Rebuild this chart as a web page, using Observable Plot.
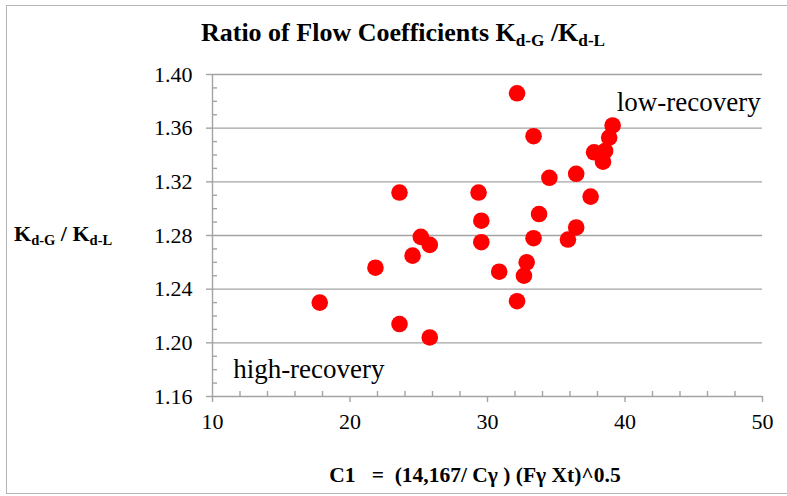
<!DOCTYPE html>
<html>
<head>
<meta charset="utf-8">
<script src="https://cdn.jsdelivr.net/npm/d3@7"></script>
<script src="https://cdn.jsdelivr.net/npm/@observablehq/plot@0.6"></script>
<style>
  body { margin: 0; background: #fff; }
  #c { position: relative; width: 787px; height: 496px; font-family: "Liberation Serif", "Times New Roman", serif; background: #fff; overflow: hidden; }
  .sub { font-size: 0.66em; position: relative; top: 0.3em; }
  #frame { position: absolute; left: 6px; top: 5px; width: 800px; height: 489px; border: 1.5px solid #b4b4b4; box-sizing: border-box; pointer-events: none; }
  #title { position: absolute; left: 0; top: 20px; width: 806px; text-align: center; font-weight: bold; font-size: 26px; line-height: 1; white-space: nowrap; }
  #ylabel { position: absolute; left: 14px; top: 223px; font-weight: bold; font-size: 22px; line-height: 1; white-space: nowrap; }
  #xlabel { position: absolute; left: 0; top: 465px; width: 950px; text-align: center; font-weight: bold; font-size: 21.5px; line-height: 1; white-space: pre; }
  #chart { position: absolute; left: 0; top: 60px; }
</style>
</head>
<body>
<div id="c">
  <div id="title">Ratio of Flow Coefficients K<span class="sub">d-G</span> /K<span class="sub">d-L</span></div>
  <div id="chart"></div>
  <div id="ylabel">K<span class="sub">d-G</span> / K<span class="sub">d-L</span></div>
  <div id="xlabel">C1   =  (14,167/ Cγ ) (Fγ Xt)^0.5</div>
  <div id="frame"></div>
</div>
<script>
// C1 values (x) and Kd-G / Kd-L ratios (y)
const c1 = [17.8, 21.85, 23.6, 23.6, 24.55, 25.15, 25.8, 25.8, 29.35, 29.55, 29.55, 30.85, 32.15, 32.15, 32.65, 32.85, 33.35, 33.35, 33.75, 34.5, 35.85, 36.45, 36.45, 37.5, 37.75, 38.4, 38.55, 38.85, 39.1];
const ratio = [1.230, 1.256, 1.312, 1.214, 1.265, 1.279, 1.273, 1.204, 1.312, 1.291, 1.275, 1.253, 1.386, 1.231, 1.250, 1.260, 1.354, 1.278, 1.296, 1.323, 1.277, 1.286, 1.326, 1.309, 1.342, 1.335, 1.343, 1.353, 1.362];

const xMajor = [10, 20, 30, 40, 50];
const xMinor = [12, 14, 16, 18, 22, 24, 26, 28, 32, 34, 36, 38, 42, 44, 46, 48];
const yMajor = [1.16, 1.20, 1.24, 1.28, 1.32, 1.36, 1.40];
const yMinor = [1.17, 1.18, 1.19, 1.21, 1.22, 1.23, 1.25, 1.26, 1.27, 1.29, 1.30, 1.31, 1.33, 1.34, 1.35, 1.37, 1.38, 1.39];

const noteText = ["low-recovery", "high-recovery"];
const noteX = [39.4, 11.5];
const noteY = [1.3795, 1.1805];

const points = c1.map((x, i) => ({x, y: ratio[i]}));
const notes = noteText.map((t, i) => ({t, x: noteX[i], y: noteY[i]}));

const gray = "#a3a3a3";
const chart = Plot.plot({
  width: 787,
  height: 390,
  marginTop: 14,
  marginBottom: 54,
  marginLeft: 212,
  marginRight: 25,
  style: {fontFamily: "'Liberation Serif', 'Times New Roman', serif", background: "transparent", color: "#000"},
  x: {domain: [10, 50]},
  y: {domain: [1.16, 1.40]},
  marks: [
    Plot.ruleY(yMajor, {stroke: gray, strokeWidth: 1.4}),
    Plot.ruleX([10], {stroke: gray, strokeWidth: 1.4}),
    Plot.axisY({ticks: yMajor, tickSize: 6, tickPadding: 14, tickFormat: d3.format(".2f"), fontSize: 22, stroke: gray, strokeWidth: 1.4, label: null}),
    Plot.axisY({ticks: yMinor, tickSize: -5, text: null, stroke: gray, strokeWidth: 1.4, label: null}),
    Plot.axisX({ticks: xMajor, tickSize: 6, tickPadding: 11, fontSize: 22, stroke: gray, strokeWidth: 1.4, label: null}),
    Plot.axisX({ticks: xMinor, tickSize: -5, text: null, stroke: gray, strokeWidth: 1.4, label: null}),
    Plot.dot(points, {x: "x", y: "y", r: 8.3, fill: "#ff0000", stroke: "none"}),
    Plot.text(notes, {x: "x", y: "y", text: "t", textAnchor: "start", fontSize: 27, fill: "#000"})
  ]
});
document.getElementById("chart").appendChild(chart);
</script>
</body>
</html>
